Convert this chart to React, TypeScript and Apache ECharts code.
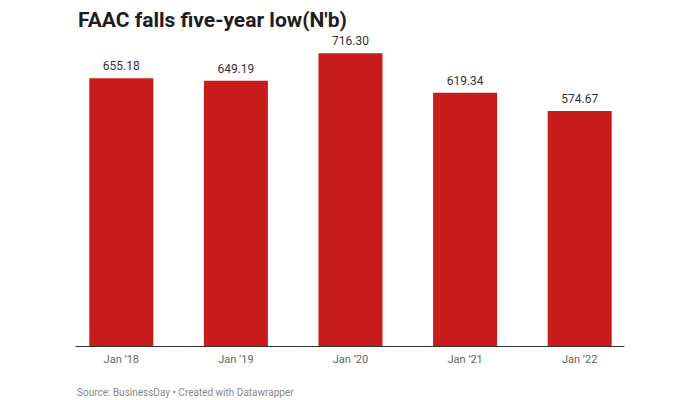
import { useEffect, useRef } from "react";
import * as echarts from "echarts";

const categories = ["Jan ’18", "Jan ’19", "Jan ’20", "Jan ’21", "Jan ’22"];
const values = [655.18, 649.19, 716.3, 619.34, 574.67];

const TITLE = "FAAC falls five-year low(N'b)";
const SOURCE = "Source: BusinessDay • Created with Datawrapper";

export default function App() {
  const chartRef = useRef<HTMLDivElement>(null);

  useEffect(() => {
    if (!chartRef.current) return;
    const chart = echarts.init(chartRef.current, undefined, { renderer: "svg" });

    chart.setOption({
      animation: false,
      backgroundColor: "#ffffff",
      textStyle: { fontFamily: "Roboto" },
      title: [
        {
          text: TITLE,
          left: 73,
          top: 4,
          textStyle: {
            fontFamily: "Roboto",
            fontSize: 21,
            fontWeight: "bold",
            color: "#1d1d1d",
          },
        },
        {
          text: SOURCE,
          left: 72,
          top: 382,
          textStyle: {
            fontFamily: "Roboto",
            fontSize: 10,
            fontWeight: "normal",
            color: "#888888",
          },
        },
      ],
      grid: [
        { left: 64, right: 63, top: 19, bottom: 54 },
        { left: 76, right: 76, top: 19, bottom: 54 },
      ],
      xAxis: [
        {
          type: "category",
          gridIndex: 0,
          data: categories,
          axisLine: { show: false },
          axisTick: { show: false },
          axisLabel: {
            color: "#666666",
            fontSize: 11,
            fontFamily: "Roboto",
            margin: 8,
          },
        },
        {
          type: "category",
          gridIndex: 1,
          data: [""],
          axisLine: { show: true, lineStyle: { color: "#333333", width: 1 } },
          axisTick: { show: false },
          axisLabel: { show: false },
        },
      ],
      yAxis: [
        { type: "value", gridIndex: 0, min: 0, max: 800, show: false },
        { type: "value", gridIndex: 1, min: 0, max: 800, show: false },
      ],
      series: [
        {
          type: "bar",
          xAxisIndex: 0,
          yAxisIndex: 0,
          data: values,
          barWidth: 64,
          itemStyle: { color: "#c81c1c" },
          label: {
            show: true,
            position: "top",
            distance: 6,
            color: "#333333",
            fontSize: 12,
            fontFamily: "Roboto",
            formatter: (p: { value: number }) => p.value.toFixed(2),
          },
        },
      ],
    });

    return () => chart.dispose();
  }, []);

  return (
    <div
      ref={chartRef}
      style={{ position: "fixed", left: 0, top: 0, width: 700, height: 400 }}
    />
  );
}
